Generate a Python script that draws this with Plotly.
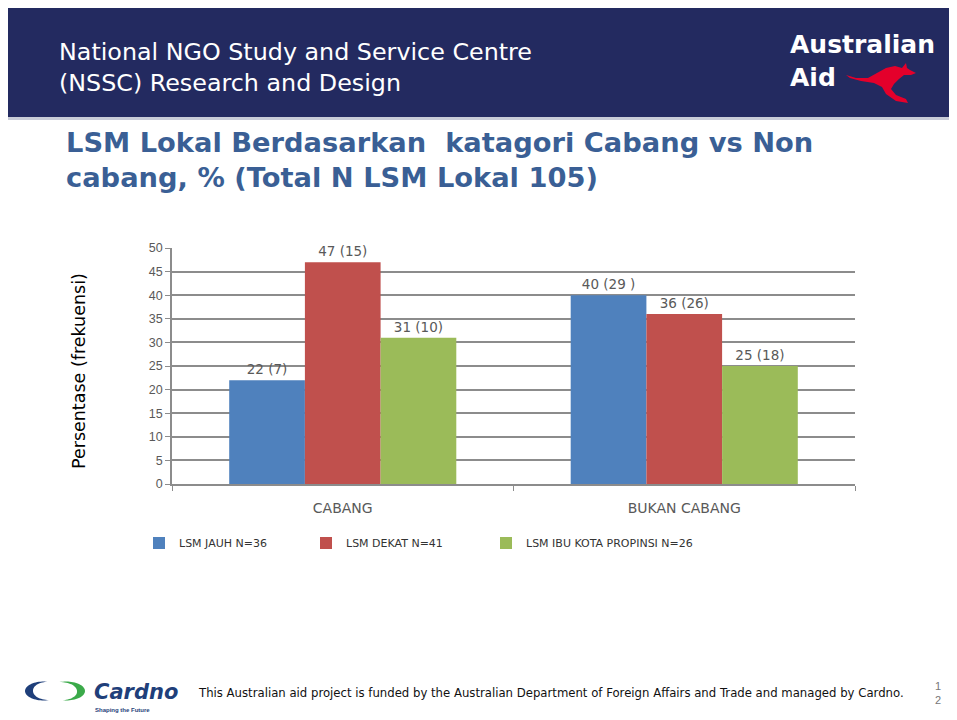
import math
import plotly.graph_objects as go

# reference-frame coordinates (page body has an 8px margin, so figure is shifted by 8px)
OFF = 8
W, H = 957, 720
L, R, T, B = 172, 855, 248, 484

categories = ["CABANG", "BUKAN CABANG"]
series_names = ["LSM JAUH N=36", "LSM DEKAT N=41", "LSM IBU KOTA PROPINSI N=26"]
jauh = [22, 40]
dekat = [47, 36]
ibukota = [31, 25]
jauh_labels = ["22 (7)", "40 (29 )"]
dekat_labels = ["47 (15)", "36 (26)"]
ibukota_labels = ["31 (10)", "25 (18)"]
colors = ["#4F81BD", "#C0504D", "#9BBB59"]
y_ticks = [0, 5, 10, 15, 20, 25, 30, 35, 40, 45, 50]


def xp(px):
    return (px - L) / (R - L)


def yp(py):
    return (B - py) / (B - T)


legend_ids = ["legend", "legend2", "legend3"]
legend_x = [139, 306, 486]

fig = go.Figure()
for name, vals, labs, col, lid in zip(series_names, [jauh, dekat, ibukota],
                                      [jauh_labels, dekat_labels, ibukota_labels], colors, legend_ids):
    fig.add_trace(go.Bar(
        x=categories, y=vals, name=name, marker=dict(color=col, line=dict(width=0)),
        text=labs, textposition="outside", cliponaxis=False, legend=lid,
        textfont=dict(family="DejaVu Sans", size=13.5, color="#595959"),
    ))

shapes = []
# header band
shapes.append(dict(type="rect", xref="paper", yref="paper", x0=xp(0), x1=xp(960), y0=yp(117), y1=yp(7),
                   fillcolor="#232A60", line=dict(width=0), layer="below"))
shapes.append(dict(type="rect", xref="paper", yref="paper", x0=xp(0), x1=xp(960), y0=yp(120), y1=yp(117),
                   fillcolor="#C8CCD8", line=dict(width=0), layer="below"))


def path_from(points):
    return "M " + " L ".join(f"{xp(x):.5f},{yp(y):.5f}" for x, y in points) + " Z"


# kangaroo silhouette (approximate)
kangaroo = [(846, 75), (856, 78), (868, 78), (877, 73), (886, 68), (895, 66), (902, 68),
            (906, 63), (907, 68), (910, 70), (916, 73), (911, 75), (904, 75), (899, 79),
            (894, 84), (891, 89), (896, 95), (906, 99), (908, 103), (896, 101), (886, 94),
            (882, 87), (874, 83), (861, 81), (850, 78)]
shapes.append(dict(type="path", xref="paper", yref="paper", path=path_from(kangaroo),
                   fillcolor="#E4002B", line=dict(width=0)))


def arc_band(cx, cy, r_out, r_in, a0, a1, squash=0.5, n=40):
    pts = []
    for i in range(n + 1):
        a = math.radians(a0 + (a1 - a0) * i / n)
        pts.append((cx + r_out * math.cos(a), cy - r_out * math.sin(a) * squash))
    for i in range(n, -1, -1):
        a = math.radians(a0 + (a1 - a0) * i / n)
        w = math.sin(math.pi * i / n)
        r = r_out - (r_out - r_in) * w
        pts.append((cx + r * math.cos(a), cy - r * math.sin(a) * squash))
    return pts


# Cardno logo arcs
shapes.append(dict(type="path", xref="paper", yref="paper",
                   path=path_from(arc_band(44, 691, 19, 11, 80, 285)),
                   fillcolor="#1F3F7A", line=dict(width=0)))
shapes.append(dict(type="path", xref="paper", yref="paper",
                   path=path_from(arc_band(66, 691, 19, 11, 110, -100)),
                   fillcolor="#3BAA4A", line=dict(width=0)))

annotations = [
    dict(text="National NGO Study and Service Centre<br>(NSSC) Research and Design",
         x=xp(57), y=yp(67), xref="paper", yref="paper", xanchor="left", yanchor="middle",
         showarrow=False, align="left",
         font=dict(family="DejaVu Sans", size=23.8, color="white")),
    dict(text="<b>Australian<br>Aid</b>", x=xp(788), y=yp(61), xref="paper", yref="paper",
         xanchor="left", yanchor="middle", showarrow=False, align="left",
         font=dict(family="DejaVu Sans", size=25, color="white")),
    dict(text="<b>LSM Lokal Berdasarkan  katagori Cabang vs Non<br>cabang, % (Total N LSM Lokal 105)</b>",
         x=xp(64), y=yp(160), xref="paper", yref="paper", xanchor="left", yanchor="middle",
         showarrow=False, align="left",
         font=dict(family="DejaVu Sans", size=27.3, color="#3A5F95")),
    dict(text="Persentase (frekuensi)", x=xp(79), y=yp(371), xref="paper", yref="paper",
         xanchor="center", yanchor="middle", showarrow=False, textangle=-90,
         font=dict(family="DejaVu Sans", size=17.5, color="#000000")),
    dict(text="<b><i>Cardno</i></b>", x=xp(92), y=yp(692), xref="paper", yref="paper",
         xanchor="left", yanchor="middle", showarrow=False,
         font=dict(family="DejaVu Sans", size=21, color="#1F3F7A")),
    dict(text="<b>Shaping the Future</b>", x=xp(93), y=yp(710), xref="paper", yref="paper",
         xanchor="left", yanchor="middle", showarrow=False,
         font=dict(family="Liberation Sans", size=6, color="#1F3F7A")),
    dict(text="This Australian aid project is funded by the Australian Department of Foreign Affairs and Trade and managed by Cardno.",
         x=xp(196), y=yp(693), xref="paper", yref="paper", xanchor="left", yanchor="middle",
         showarrow=False,
         font=dict(family="DejaVu Sans", size=11.7, color="#111111")),
    dict(text="1<br>2", x=xp(938), y=yp(693), xref="paper", yref="paper", xanchor="center",
         yanchor="middle", showarrow=False,
         font=dict(family="Liberation Sans", size=11, color="#777777")),
]

legend_style = dict(orientation="h", y=yp(543), xanchor="left", yanchor="middle",
                    font=dict(family="DejaVu Sans", size=11, color="#333333"),
                    itemwidth=30, bgcolor="rgba(0,0,0,0)")

fig.update_layout(
    width=W - OFF, height=H - OFF,
    margin=dict(l=L - OFF, r=W - R, t=T - OFF, b=H - B, autoexpand=False),
    paper_bgcolor="white", plot_bgcolor="white",
    barmode="group", bargap=0.335, bargroupgap=0,
    showlegend=True,
    legend=dict(x=xp(legend_x[0]), **legend_style),
    legend2=dict(x=xp(legend_x[1]), **legend_style),
    legend3=dict(x=xp(legend_x[2]), **legend_style),
    shapes=shapes,
    annotations=annotations,
    font=dict(family="Liberation Sans, Arial"),
)
fig.update_yaxes(range=[0, 50], tickvals=y_ticks, showgrid=True, gridcolor="#8C8C8C", gridwidth=1.5,
                 showline=True, linecolor="#8C8C8C", linewidth=1.5, ticks="outside", ticklen=5,
                 tickcolor="#8C8C8C", zeroline=False,
                 tickfont=dict(family="Liberation Sans, Arial", size=12.5, color="#595959"))
fig.update_xaxes(showline=True, linecolor="#8C8C8C", linewidth=1.5, ticks="outside", ticklen=5,
                 tickcolor="#8C8C8C", tickson="boundaries", ticklabelstandoff=10,
                 tickfont=dict(family="DejaVu Sans", size=14, color="#595959"))

fig.write_html("out.html")
